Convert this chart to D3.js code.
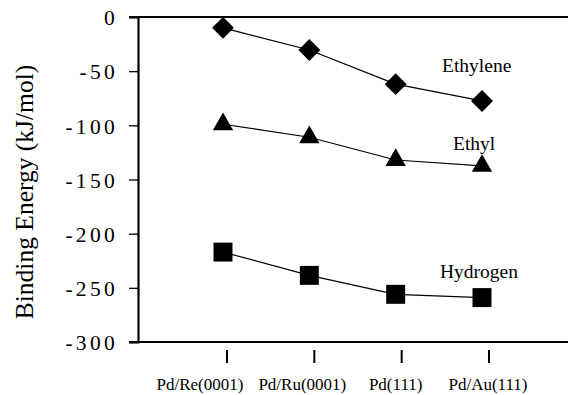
<!DOCTYPE html>
<html lang="en">
<head>
<meta charset="UTF-8">
<title>Binding Energy</title>
<style>
  body { margin: 0; background: #fff; }
  svg text { font-family: "Liberation Serif", "Times New Roman", Times, "DejaVu Serif", serif; fill: #000; }
</style>
<script src="https://d3js.org/d3.v7.min.js"></script>
</head>
<body>
<script>
// data
const categories = ['Pd/Re(0001)', 'Pd/Ru(0001)', 'Pd(111)', 'Pd/Au(111)'];
const ethylene = [-10, -30.5, -62, -77.5];
const ethyl = [-99, -111, -132, -137.5];
const hydrogen = [-217, -238.5, -256, -259];
const yTicks = [0, -50, -100, -150, -200, -250, -300];

const width = 568, height = 395;
const plotLeft = 138, plotTop = 17, plotBottom = 342;

const svg = d3.select('body').append('svg')
    .attr('width', width)
    .attr('height', height);

const x = d3.scalePoint().domain(categories).range([223, 482]);
const xTick = d3.scalePoint().domain(categories).range([227, 489]);
const y = d3.scaleLinear().domain([-300, 0]).range([plotBottom, plotTop]);

// frame: top and bottom lines run off to the right edge
svg.append('line')
    .attr('x1', 129).attr('x2', width).attr('y1', y(0)).attr('y2', y(0))
    .attr('stroke', '#000').attr('stroke-width', 2.2);
svg.append('line')
    .attr('x1', 129).attr('x2', width).attr('y1', y(-300)).attr('y2', y(-300))
    .attr('stroke', '#000').attr('stroke-width', 2.2);

// y axis
const yAxis = svg.append('g')
    .attr('transform', `translate(${plotLeft},0)`)
    .call(d3.axisLeft(y).tickValues(yTicks).tickSize(9).tickPadding(11)
        .tickFormat(d => String(d)));
yAxis.attr('font-family', null);
yAxis.select('.domain').attr('stroke-width', 2.2);
yAxis.selectAll('.tick line').attr('stroke-width', 1.3);
yAxis.selectAll('.tick text')
    .attr('font-size', 21.5)
    .attr('letter-spacing', 3.3)
    .attr('dy', '0.36em');

// y title
svg.append('text')
    .attr('transform', 'translate(33,192) rotate(-90)')
    .attr('text-anchor', 'middle')
    .attr('font-size', 25.5)
    .text('Binding Energy (kJ/mol)');

// x ticks sit below the frame, detached
svg.append('g').selectAll('line')
    .data(categories)
    .enter().append('line')
    .attr('x1', d => xTick(d)).attr('x2', d => xTick(d))
    .attr('y1', 350).attr('y2', 363)
    .attr('stroke', '#000').attr('stroke-width', 2);

const labelShift = [-27, -12, -6, -1];
svg.append('g').selectAll('text')
    .data(categories)
    .enter().append('text')
    .attr('x', (d, i) => xTick(d) + labelShift[i])
    .attr('y', 390)
    .attr('text-anchor', 'middle')
    .attr('font-size', 17)
    .text(d => d);

// series
const series = [
    { name: 'Ethylene', values: ethylene, symbol: d3.symbolSquare, size: 240, rot: 45, dx: -40, dy: -29 },
    { name: 'Ethyl', values: ethyl, symbol: d3.symbolTriangle, size: 180, rot: 0, dx: -29, dy: -16 },
    { name: 'Hydrogen', values: hydrogen, symbol: d3.symbolSquare, size: 360, rot: 0, dx: -42, dy: -20 }
];

const line = d3.line()
    .x((d, i) => x(categories[i]))
    .y(d => y(d));

series.forEach(s => {
    svg.append('path')
        .datum(s.values)
        .attr('d', line)
        .attr('fill', 'none')
        .attr('stroke', '#000')
        .attr('stroke-width', 1.2);

    svg.append('g').selectAll('path')
        .data(s.values)
        .enter().append('path')
        .attr('d', d3.symbol().type(s.symbol).size(s.size))
        .attr('transform', (d, i) => `translate(${x(categories[i])},${y(d)}) rotate(${s.rot})`)
        .attr('fill', '#000');

    const last = s.values.length - 1;
    svg.append('text')
        .attr('x', x(categories[last]) + s.dx)
        .attr('y', y(s.values[last]) + s.dy)
        .attr('font-size', 19.5)
        .text(s.name);
});
</script>
</body>
</html>
